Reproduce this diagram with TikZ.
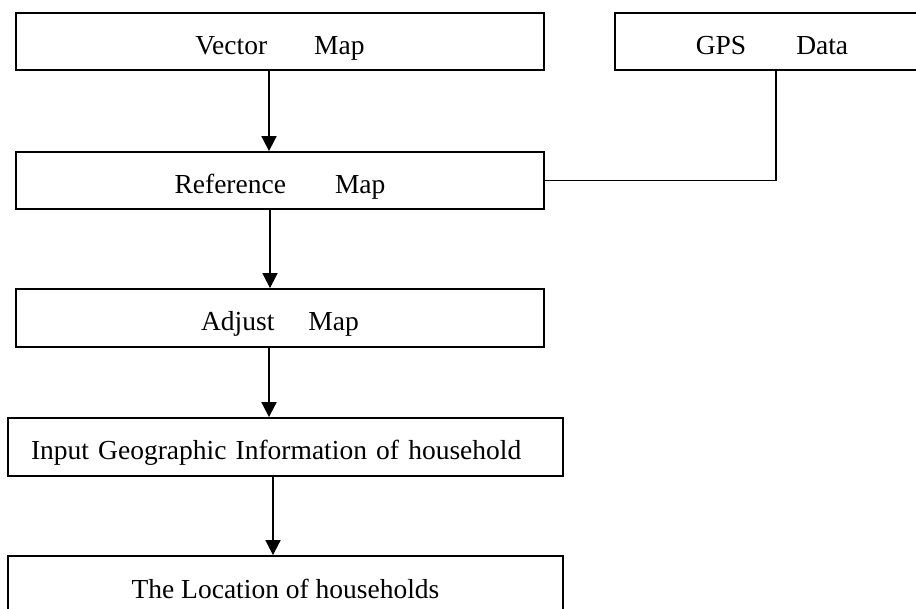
\documentclass[tikz,border=0pt]{standalone}
\usepackage{fontspec}
\setmainfont{Liberation Serif}
\usetikzlibrary{arrows.meta}
\begin{document}
\begin{tikzpicture}[x=1pt,y=-1pt,
  box/.style={draw=black,line width=1.8pt,rectangle,inner sep=0pt,
    text height=26pt,text depth=0pt,font=\fontsize{27.5}{32}\selectfont},
  arr/.style={line width=1.8pt,-{Triangle[width=15pt,length=15pt]}},
  conn/.style={line width=1.8pt}]
\useasboundingbox (0,0) rectangle (916,609);
\node[box,minimum width=528pt,minimum height=57pt] (vec) at (280,41.5) {Vector\hspace{47pt}Map};
\node[box,minimum width=314pt,minimum height=57pt] (gps) at (772,41.5) {GPS\hspace{50pt}Data};
\node[box,minimum width=528pt,minimum height=57pt] (ref) at (280,180.5) {Reference\hspace{49pt}Map};
\node[box,minimum width=528pt,minimum height=58pt] (adj) at (280,318) {Adjust\hspace{34pt}Map};
\node[box,minimum width=555pt,minimum height=58pt,text width=509pt,inner xsep=23pt,align=left] (inp) at (285.5,447) {Input Geographic Information of household};
\node[box,minimum width=555pt,minimum height=58pt] (loc) at (285.5,585) {The Location of households};
\coordinate (xa) at (269,0);
\coordinate (xb) at (270,0);
\coordinate (xc) at (269,0);
\coordinate (xd) at (273,0);
\coordinate (xg) at (776,0);
\draw[arr] (vec.south -| xa) -- (ref.north -| xa);
\draw[arr] (ref.south -| xb) -- (adj.north -| xb);
\draw[arr] (adj.south -| xc) -- (inp.north -| xc);
\draw[arr] (inp.south -| xd) -- (loc.north -| xd);
\draw[conn] (gps.south -| xg) |- (ref.east);
\end{tikzpicture}
\end{document}
